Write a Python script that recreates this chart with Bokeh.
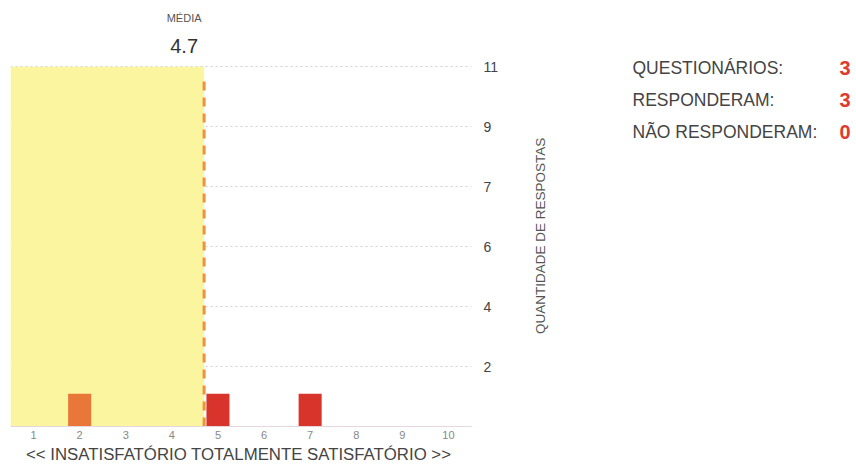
import math
from bokeh.plotting import figure
from bokeh.layouts import row
from bokeh.models import FixedTicker, CustomJSTickFormatter, ColumnDataSource, Range1d
from bokeh.core.properties import value
from bokeh.embed import file_html
from bokeh.resources import INLINE

# ---- data ----
scores = [1, 2, 3, 4, 5, 6, 7, 8, 9, 10]
counts = [0, 1, 0, 0, 1, 0, 1, 0, 0, 0]
bar_colors = ["#E9773A", "#E9773A", "#E9773A", "#E9773A", "#D9342B",
              "#D9342B", "#D9342B", "#D9342B", "#D9342B", "#D9342B"]
y_max = 11
grid_divisions = 6
x_axis_title = "<< INSATISFATÓRIO  TOTALMENTE SATISFATÓRIO >>"
y_axis_title = "QUANTIDADE DE RESPOSTAS"
mean_title = "MÉDIA"
summary_labels = ["QUESTIONÁRIOS:", "RESPONDERAM:", "NÃO RESPONDERAM:"]
summary_values = ["3", "3", "0"]

FONT = "Liberation Sans"

total = sum(counts)
mean = round(sum(s * c for s, c in zip(scores, counts)) / total, 1)

H = 466
BT, BB = 5, 39
p = figure(width=530, height=H, output_backend="svg", toolbar_location=None,
           x_range=Range1d(0.5, 10.5), y_range=Range1d(0, y_max * 1.17),
           y_axis_location="right",
           min_border_left=10, min_border_right=59, min_border_top=BT, min_border_bottom=BB)
p.outline_line_color = None
p.background_fill_color = "white"
p.border_fill_color = "white"

# yellow area up to the mean
p.quad(left=[0.5], right=[mean], bottom=[0], top=[y_max],
       fill_color="#FCF5A0", line_color=None)

# bars
src = ColumnDataSource(dict(x=scores, top=counts, color=bar_colors))
p.vbar(x="x", top="top", width=0.5, fill_color="color", line_color=None, source=src)

# mean dashed line
p.segment(x0=[mean], y0=[0], x1=[mean], y1=[y_max - 0.4],
          line_color="#EE923E", line_width=3, line_dash="9 7")

# mean labels above the plot area
p.text(x=[mean], y=[y_max], text=[mean_title], x_offset=-20, y_offset=-49,
       text_font=value(FONT), text_font_size="11px", text_color="#555555",
       text_align="center", text_baseline="middle")
p.text(x=[mean], y=[y_max], text=[f"{mean}"], x_offset=-20, y_offset=-21,
       text_font=value(FONT), text_font_size="20px", text_color="#333333",
       text_align="center", text_baseline="middle")

# grid
ticks = [y_max * k / grid_divisions for k in range(1, grid_divisions + 1)]
p.xgrid.grid_line_color = None
p.ygrid.ticker = FixedTicker(ticks=ticks)
p.ygrid.grid_line_color = "#CFCFCF"
p.ygrid.grid_line_dash = "2 3"
p.ygrid.grid_line_width = 1

# right axis
ya = p.yaxis[0]
ya.ticker = FixedTicker(ticks=ticks)
ya.formatter = CustomJSTickFormatter(code="return Math.round(tick).toString();")
ya.axis_line_color = None
ya.major_tick_line_color = None
ya.minor_tick_line_color = None
ya.major_tick_out = 0
ya.major_tick_in = 0
ya.major_label_standoff = 12
ya.major_label_text_font = FONT
ya.major_label_text_font_size = "14px"
ya.major_label_text_color = "#444444"
ya.major_label_text_baseline = "alphabetic"

# bottom axis
xa = p.xaxis[0]
xa.ticker = FixedTicker(ticks=scores)
xa.axis_line_color = "#E6D6DE"
xa.axis_line_width = 1
xa.major_tick_line_color = None
xa.minor_tick_line_color = None
xa.major_tick_out = 0
xa.major_tick_in = 0
xa.major_label_standoff = 4
xa.major_label_text_font = FONT
xa.major_label_text_font_size = "11px"
xa.major_label_text_color = "#888888"
xa.axis_label = x_axis_title
xa.axis_label_standoff = 3
xa.axis_label_text_font = FONT
xa.axis_label_text_font_size = "16.8px"
xa.axis_label_text_font_style = "normal"
xa.axis_label_text_color = "#444444"

# ---- right panel: y-axis title and summary ----
QW = 322
QH = H - BT - BB  # frame height in pixels; data units = pixels
q = figure(width=QW, height=H, output_backend="svg", toolbar_location=None,
           x_range=Range1d(0, QW), y_range=Range1d(0, QH),
           x_axis_location=None, y_axis_location=None,
           min_border_left=0, min_border_right=0, min_border_top=BT, min_border_bottom=BB)
q.outline_line_color = None
q.grid.visible = False

q.text(x=[10], y=[191], text=[y_axis_title], angle=math.pi / 2,
       text_font=value(FONT), text_font_size="13.5px", text_color="#555555",
       text_align="center", text_baseline="middle")

ys = [359, 327, 295]
q.text(x=[102] * 3, y=ys, text=summary_labels, text_font=value(FONT),
       text_font_size="17.5px", text_color="#444444", text_baseline="middle",
       text_align="left")
q.text(x=[320] * 3, y=ys, text=summary_values, text_font=value(FONT),
       text_font_size="20px", text_font_style="bold", text_color="#E0392D",
       text_baseline="middle", text_align="right")

layout = row(p, q)
open("out.html", "w").write(file_html(layout, INLINE))
